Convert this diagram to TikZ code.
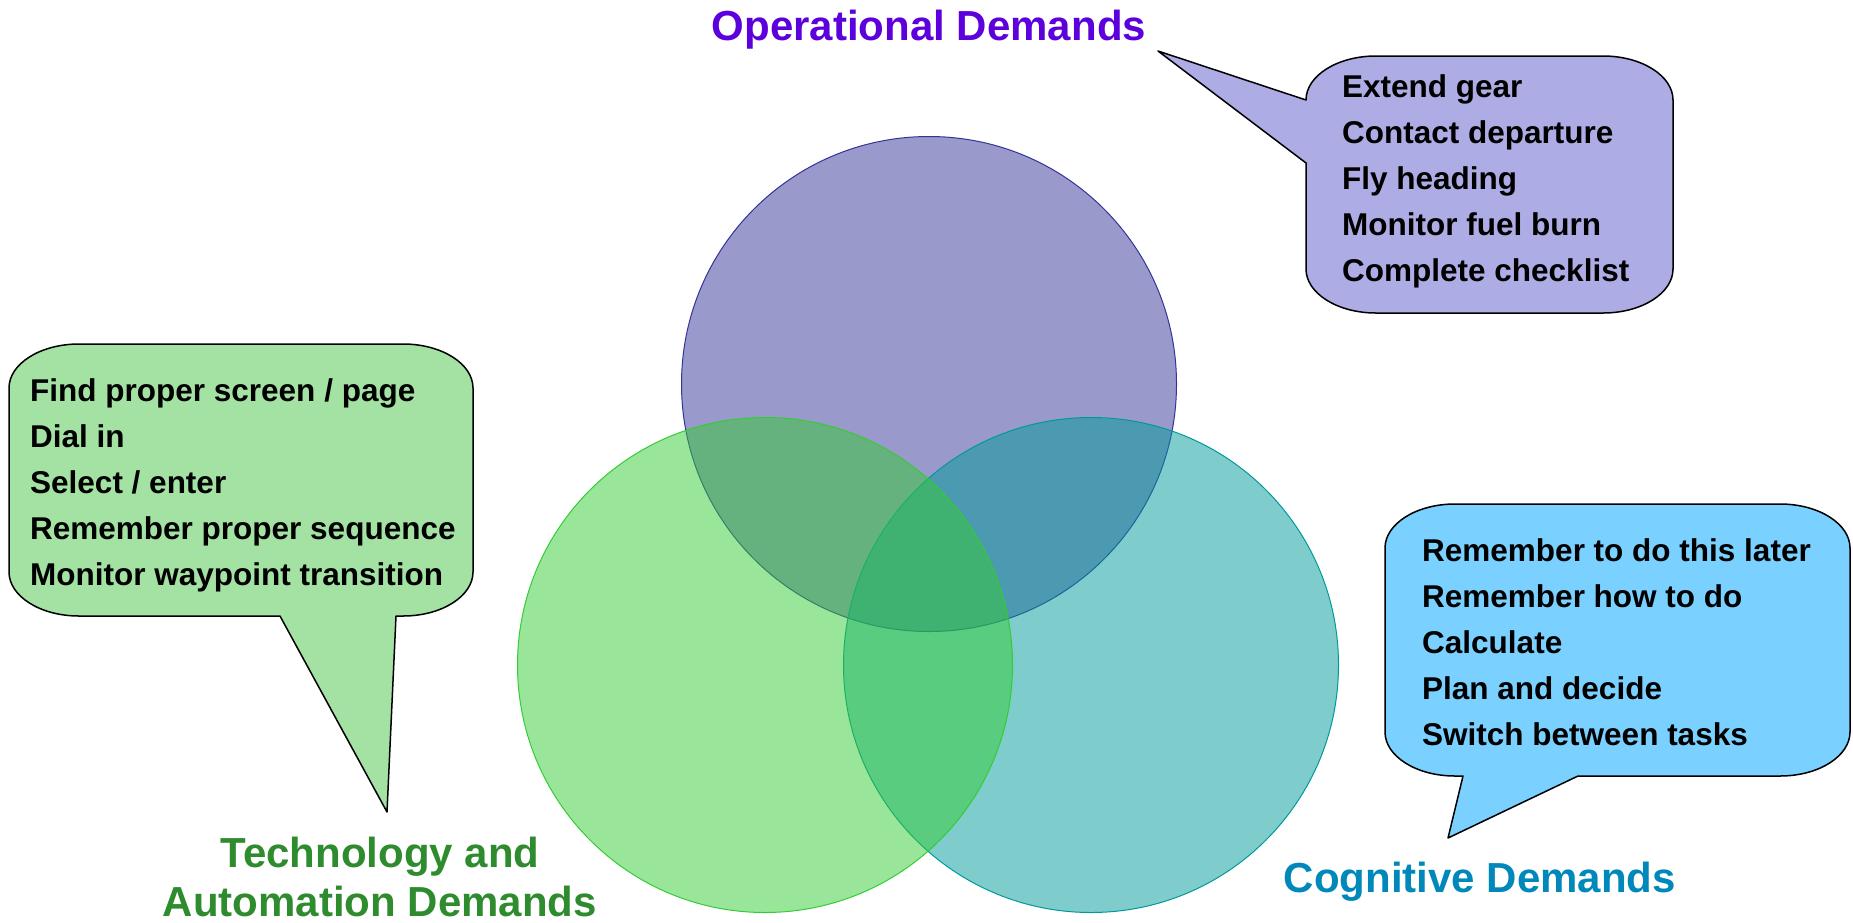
\documentclass[tikz,border=0pt]{standalone}
\usepackage{fontspec}
\setmainfont{Liberation Sans}

\definecolor{opfill}{RGB}{51,51,153}
\definecolor{cogfill}{RGB}{0,153,153}
\definecolor{techfill}{RGB}{51,204,51}
\definecolor{opbubble}{RGB}{174,172,228}
\definecolor{techbubble}{RGB}{164,226,164}
\definecolor{cogbubble}{RGB}{122,208,255}
\definecolor{optext}{RGB}{92,0,220}
\definecolor{techtext}{RGB}{46,139,46}
\definecolor{cogtext}{RGB}{0,136,187}

\begin{document}
\begin{tikzpicture}[x=1pt, y=-1pt,
	venn/.style={circle, minimum size=495, inner sep=0, line width=1pt, fill opacity=0.5},
	bubble/.style={draw=black, line width=1.5pt, line join=round},
	listitem/.style={anchor=base west, inner sep=0, font=\fontsize{31.5}{38}\selectfont\bfseries},
	heading/.style={anchor=base, inner sep=0, align=center, font=\fontsize{42}{49}\selectfont\bfseries}]
	\useasboundingbox (0,0) rectangle (1853,922);
	
	%three demand circles
	\node[venn, draw=opfill, fill=opfill] (op) at (929,384) {};
	\node[venn, draw=cogfill, fill=cogfill] (cog) at (1091,665) {};
	\node[venn, draw=techfill, fill=techfill] (tech) at (765,665) {};
	
	%headings
	\node[heading, optext] (optitle) at (929,40) {Operational Demands};
	\node[heading, cogtext] (cogtitle) at (1480,892) {Cognitive Demands};
	\node[heading, techtext] (techtitle) at (380,916) {Technology and\\Automation Demands};
	
	%operational bubble, tail to the left
	\filldraw[bubble, fill=opbubble] (1376,56) -- (1603,56)
		.. controls (1642,56) and (1673,76) .. (1673,100) -- (1673,269)
		.. controls (1673,293) and (1642,313) .. (1603,313) -- (1376,313)
		.. controls (1337,313) and (1306,293) .. (1306,269)
		-- (1306,163) -- (1158,51) -- (1306,100)
		.. controls (1306,76) and (1337,56) .. (1376,56) -- cycle;
	\foreach \t [count=\i] in {Extend gear, Contact departure, Fly heading, Monitor fuel burn, Complete checklist}
		\node[listitem] (op-\i) at (1342, 51+46*\i) {\t};
	
	%technology bubble, tail down
	\filldraw[bubble, fill=techbubble] (79,344) -- (403,344)
		.. controls (442,344) and (473,364) .. (473,388) -- (473,572)
		.. controls (473,596) and (442,616) .. (403,616)
		-- (396,616) -- (387,812) -- (280,616) -- (79,616)
		.. controls (40,616) and (9,596) .. (9,572) -- (9,388)
		.. controls (9,364) and (40,344) .. (79,344) -- cycle;
	\foreach \t [count=\i] in {Find proper screen / page, Dial in, Select / enter, Remember proper sequence, Monitor waypoint transition}
		\node[listitem] (tech-\i) at (30, 355+46*\i) {\t};
	
	%cognitive bubble, tail down
	\filldraw[bubble, fill=cogbubble] (1455,504) -- (1780,504)
		.. controls (1819,504) and (1850,524) .. (1850,548) -- (1850,732)
		.. controls (1850,756) and (1819,776) .. (1780,776)
		-- (1578,776) -- (1448,838) -- (1463,776) -- (1455,776)
		.. controls (1416,776) and (1385,756) .. (1385,732) -- (1385,548)
		.. controls (1385,524) and (1416,504) .. (1455,504) -- cycle;
	\foreach \t [count=\i] in {Remember to do this later, Remember how to do, Calculate, Plan and decide, Switch between tasks}
		\node[listitem] (cog-\i) at (1422, 515+46*\i) {\t};
\end{tikzpicture}
\end{document}
